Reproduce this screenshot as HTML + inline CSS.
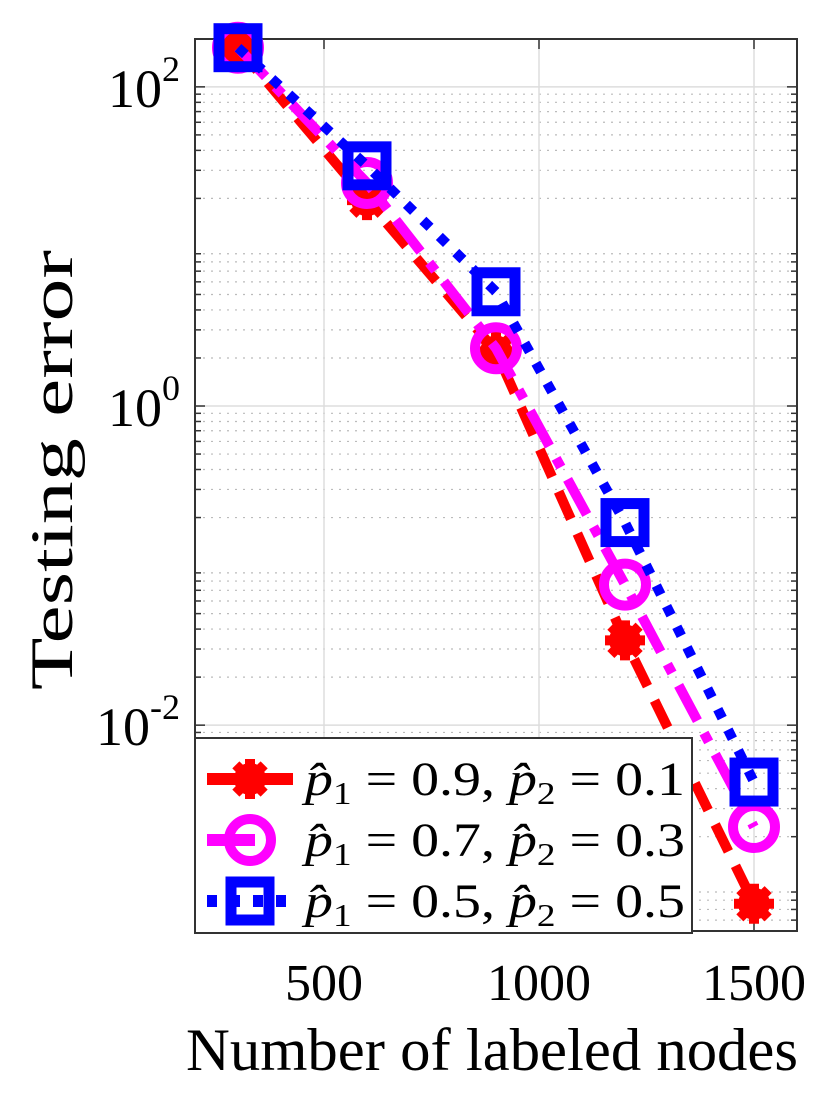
<!DOCTYPE html>
<html><head><meta charset="utf-8"><style>
html,body{margin:0;padding:0;background:#fff;}
svg{display:block;}
text{font-family:"Liberation Serif",serif;}
</style></head><body>
<svg id="chart" width="830" height="1094" viewBox="0 0 830 1094">
<rect width="830" height="1094" fill="#fff"/>
<g id="grid"></g>
<g id="axes"></g>
<g id="series"></g>
<text x="58" y="470" font-family="Liberation Serif, serif" font-size="60" text-anchor="middle" transform="rotate(-90 58 470)" dominant-baseline="middle" textLength="440" lengthAdjust="spacingAndGlyphs">Testing error</text>
<text x="492" y="1070" font-family="Liberation Serif, serif" font-size="60" text-anchor="middle" textLength="612" lengthAdjust="spacingAndGlyphs">Number of labeled nodes</text>
<g id="legend"></g>
</svg>
<script>
const categories = [300, 600, 900, 1200, 1500];
const seriesA = [176, 19.5, 2.2, 0.034, 0.00076];
const seriesB = [176, 25, 2.3, 0.076, 0.0023];
const seriesC = [176, 32, 5.2, 0.186, 0.0044];
const xTicks = [500, 1000, 1500];
const yTickExps = [-2, 0, 2];
const legendLabels = ["0.9", "0.1", "0.7", "0.3", "0.5", "0.5"];

const NS = "http://www.w3.org/2000/svg";
const L = 195, R = 797, T = 39, B = 931;
const xMin = 200, xMax = 1600, yMinE = -3.29, yMaxE = 2.30;
function xs(v){ return L + (v - xMin) / (xMax - xMin) * (R - L); }
function ys(v){ return B - (Math.log10(v) - yMinE) / (yMaxE - yMinE) * (B - T); }
function mk(tag, attrs, parent){ const e = document.createElementNS(NS, tag); for (const k in attrs) e.setAttribute(k, attrs[k]); parent.appendChild(e); return e; }

const grid = document.getElementById('grid');
const axes = document.getElementById('axes');
for (let e = -4; e <= 2; e++) {
  for (let m = 2; m <= 9; m++) {
    const v = m * Math.pow(10, e);
    const y = ys(v);
    if (y < T || y > B) continue;
    const g = mk('line', {x1: L, x2: R, y1: y, y2: y, stroke: '#bbb', 'stroke-width': 1.2, 'stroke-dasharray': '2 6'}, grid);
    
    
    const t1 = mk('line', {x1: L, x2: L + 6, y1: y, y2: y, stroke: '#333', 'stroke-width': 1.5}, axes);
    
    
    const t2 = mk('line', {x1: R - 6, x2: R, y1: y, y2: y, stroke: '#333', 'stroke-width': 1.5}, axes);
    
    
  }
}
yTickExps.forEach(e => {
  const y = ys(Math.pow(10, e));
  const g = mk('line', {x1: L, x2: R, y1: y, y2: y, stroke: '#ddd', 'stroke-width': 1.5}, grid);
  
  
  const t1 = mk('line', {x1: L, x2: L + 10, y1: y, y2: y, stroke: '#333', 'stroke-width': 1.5}, axes);
  
  
  const t2 = mk('line', {x1: R - 10, x2: R, y1: y, y2: y, stroke: '#333', 'stroke-width': 1.5}, axes);
  
  
  const tx = mk('text', {x: 180, y: y + 20, 'font-size': 54, 'text-anchor': 'end', 'font-family': 'Liberation Serif, serif'}, axes);
  
  
  tx.textContent = '10';
  const sp = mk('tspan', {dy: -26, 'font-size': 36}, tx);
  sp.textContent = String(e);
});
xTicks.forEach(v => {
  const x = xs(v);
  const g = mk('line', {x1: x, x2: x, y1: T, y2: B, stroke: '#ddd', 'stroke-width': 1.5}, grid);
  
  
  const t1 = mk('line', {x1: x, x2: x, y1: T, y2: T + 10, stroke: '#333', 'stroke-width': 1.5}, axes);
  
  
  const t2 = mk('line', {x1: x, x2: x, y1: B - 10, y2: B, stroke: '#333', 'stroke-width': 1.5}, axes);
  
  
  const tx = mk('text', {x: x, y: 1000, 'font-size': 52, 'text-anchor': 'middle', 'font-family': 'Liberation Serif, serif'}, axes);
  
  
  tx.textContent = String(v);
});
const frame = mk('rect', {x: L, y: T, width: R - L, height: B - T, fill: 'none', stroke: '#333', 'stroke-width': 2}, axes);



const ser = document.getElementById('series');
function star(parent, cx, cy, r, color){
  const g = mk('g', {}, parent);
  mk('circle', {cx, cy, r: r * 0.8, fill: color}, g);
  for (let i = 0; i < 4; i++) {
    const a = i * Math.PI / 4;
    mk('line', {x1: cx - r * Math.cos(a), y1: cy - r * Math.sin(a), x2: cx + r * Math.cos(a), y2: cy + r * Math.sin(a), stroke: color, 'stroke-width': 10}, g);
  }
  return g;
}
function circ(parent, cx, cy, r, color){ return mk('circle', {cx, cy, r: r, fill: 'none', stroke: color, 'stroke-width': 10}, parent); }
function sq(parent, cx, cy, r, color){ return mk('rect', {x: cx - r, y: cy - r, width: 2 * r, height: 2 * r, fill: 'none', stroke: color, 'stroke-width': 11}, parent); }

const defs = [
  {vals: seriesA, color: '#ff0000', dash: '30 16', name: 'series-p1-0.9', marker: star, r: 20},
  {vals: seriesB, color: '#ff00ff', dash: '40 14 10 14', name: 'series-p1-0.7', marker: circ, r: 21},
  {vals: seriesC, color: '#0000ff', dash: '10 13', name: 'series-p1-0.5', marker: sq, r: 19},
];
defs.forEach(d => {
  const g = mk('g', {}, ser);
  
  
  const pts = categories.map((c, i) => xs(c) + ',' + ys(d.vals[i])).join(' ');
  const pl = mk('polyline', {points: pts, fill: 'none', stroke: d.color, 'stroke-width': 10, 'stroke-dasharray': d.dash}, g);
  
  
  categories.forEach((c, i) => {
    const m = d.marker(g, xs(c), ys(d.vals[i]), d.r, d.color);
    
    
  });
});

const lg = document.getElementById('legend');
const box = mk('rect', {x: 195, y: 738, width: 497, height: 195, fill: '#fff', stroke: '#333', 'stroke-width': 2}, lg);


const rowsY = [795, 856, 917];
const legDash = ['86 0', '48 100', '10 13'];
defs.forEach((d, i) => {
  const g = mk('g', {}, lg);
  
  
  const y = rowsY[i] - 16;
  mk('line', {x1: 207, x2: 293, y1: y, y2: y, stroke: d.color, 'stroke-width': 12, 'stroke-dasharray': legDash[i]}, g);
  d.marker(g, 250, y, d.r, d.color);
  const t = mk('text', {x: 305, y: rowsY[i], 'font-size': 48, 'font-family': 'Liberation Serif, serif', textLength: 380, lengthAdjust: 'spacingAndGlyphs'}, g);
  t.innerHTML = '<tspan font-style="italic">p̂</tspan><tspan font-size="32" dy="9">1</tspan><tspan dy="-9"> = ' + legendLabels[2*i] + ', </tspan><tspan font-style="italic">p̂</tspan><tspan font-size="32" dy="9">2</tspan><tspan dy="-9"> = ' + legendLabels[2*i+1] + '</tspan>';
});
</script>
</body></html>
